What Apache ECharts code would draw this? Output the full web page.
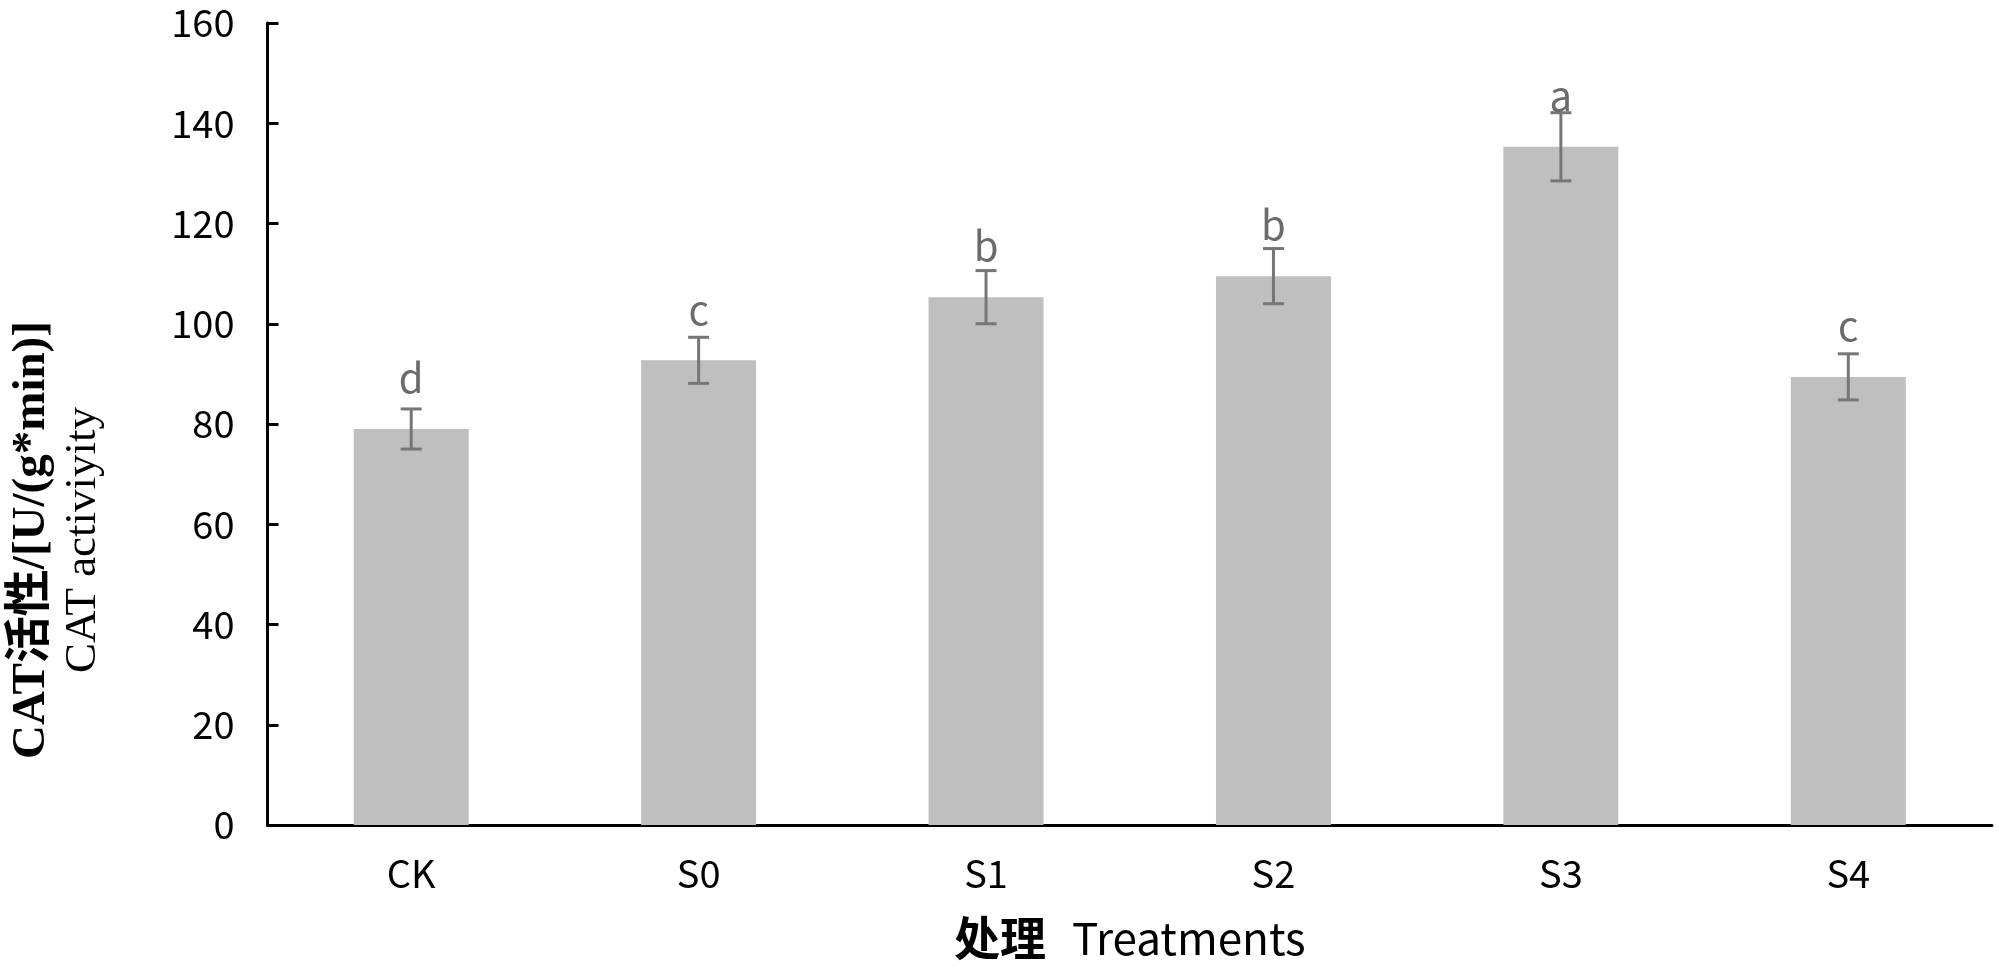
<!DOCTYPE html>
<html>
<head>
<meta charset="utf-8">
<script src="https://cdn.jsdelivr.net/npm/echarts@6/dist/echarts.min.js"></script>
<style>
  html, body { margin: 0; padding: 0; background: #fff; }
  #my-charts { width: 1999px; height: 967px; }
</style>
</head>
<body>
<div id="my-charts"></div>
<script>
// data
var categories = ['CK', 'S0', 'S1', 'S2', 'S3', 'S4']
var catValues = [79.0, 92.7, 105.3, 109.5, 135.3, 89.4]
var catErrors = [4.0, 4.6, 5.3, 5.5, 6.8, 4.6]
var sigLetters = ['d', 'c', 'b', 'b', 'a', 'c']
var yTicks = [0, 20, 40, 60, 80, 100, 120, 140, 160]

var myChart = echarts.init(document.getElementById('my-charts'))

var tickFont = '"Noto Sans CJK SC", "Noto Sans", sans-serif'
var serifFont = '"Liberation Serif", "Noto Sans CJK SC", serif'

var option = {
  animation: false,
  grid: { left: 264, right: 7, top: 23, bottom: 142, containLabel: false },
  xAxis: {
    type: 'category',
    data: categories,
    axisLine: { lineStyle: { color: '#000', width: 3 } },
    axisTick: { show: false },
    axisLabel: { color: '#000', fontSize: 38, fontFamily: tickFont, margin: 30 },
    name: '{cn|处理}{en|Treatments}',
    nameLocation: 'middle',
    nameGap: 90,
    nameTextStyle: {
      rich: {
        cn: { fontSize: 46, fontWeight: 'bold', fontFamily: tickFont, color: '#000' },
        en: { fontSize: 44, fontFamily: tickFont, color: '#000', padding: [0, 0, 0, 26] }
      }
    }
  },
  yAxis: {
    type: 'value',
    min: yTicks[0],
    max: yTicks[yTicks.length - 1],
    interval: 20,
    splitLine: { show: false },
    axisLine: { show: true, lineStyle: { color: '#000', width: 3 } },
    axisTick: { show: true, inside: true, length: 11, lineStyle: { color: '#000', width: 3 } },
    axisLabel: { color: '#000', fontSize: 38, fontFamily: tickFont, margin: 33 },
    name: '{b|CAT活性/[U/(g*min)]}\n{r|CAT activiyity}',
    nameLocation: 'middle',
    nameRotate: 90,
    nameGap: 158,
    nameTextStyle: {
      align: 'center',
      // push the title down along the axis, as in the original
      padding: [0, 232, 0, 0],
      rich: {
        b: { fontSize: 47, fontWeight: 'bold', fontFamily: serifFont, color: '#000', lineHeight: 52, align: 'center' },
        r: { fontSize: 45, fontFamily: serifFont, color: '#000', lineHeight: 52, align: 'center' }
      }
    }
  },
  series: [
    {
      name: 'CAT',
      type: 'bar',
      data: catValues,
      barWidth: '40%',
      itemStyle: { color: '#bfbfbf' },
      z: 2
    },
    {
      name: 'err',
      type: 'custom',
      data: categories.map(function(c, i) {
        return [i, catValues[i], catErrors[i]]
      }),
      z: 3,
      renderItem: function(params, api) {
        var i = api.value(0)
        var v = api.value(1)
        var e = api.value(2)
        var mid = api.coord([i, v])
        var top = api.coord([i, v + e])
        var bot = api.coord([i, v - e])
        var cap = 10.5
        var style = { stroke: '#767676', lineWidth: 3 }
        return {
          type: 'group',
          children: [
            { type: 'line', shape: { x1: top[0], y1: top[1], x2: bot[0], y2: bot[1] }, style: style },
            { type: 'line', shape: { x1: top[0] - cap, y1: top[1], x2: top[0] + cap, y2: top[1] }, style: style },
            { type: 'line', shape: { x1: bot[0] - cap, y1: bot[1], x2: bot[0] + cap, y2: bot[1] }, style: style },
            {
              type: 'text',
              style: {
                text: sigLetters[params.dataIndex],
                x: mid[0],
                y: mid[1] - 31,
                textAlign: 'center',
                textVerticalAlign: 'bottom',
                fontSize: 40,
                fontFamily: tickFont,
                fill: '#6b6b6b'
              }
            }
          ]
        }
      }
    }
  ]
}

myChart.setOption(option)
myChart.resize()
</script>
</body>
</html>
